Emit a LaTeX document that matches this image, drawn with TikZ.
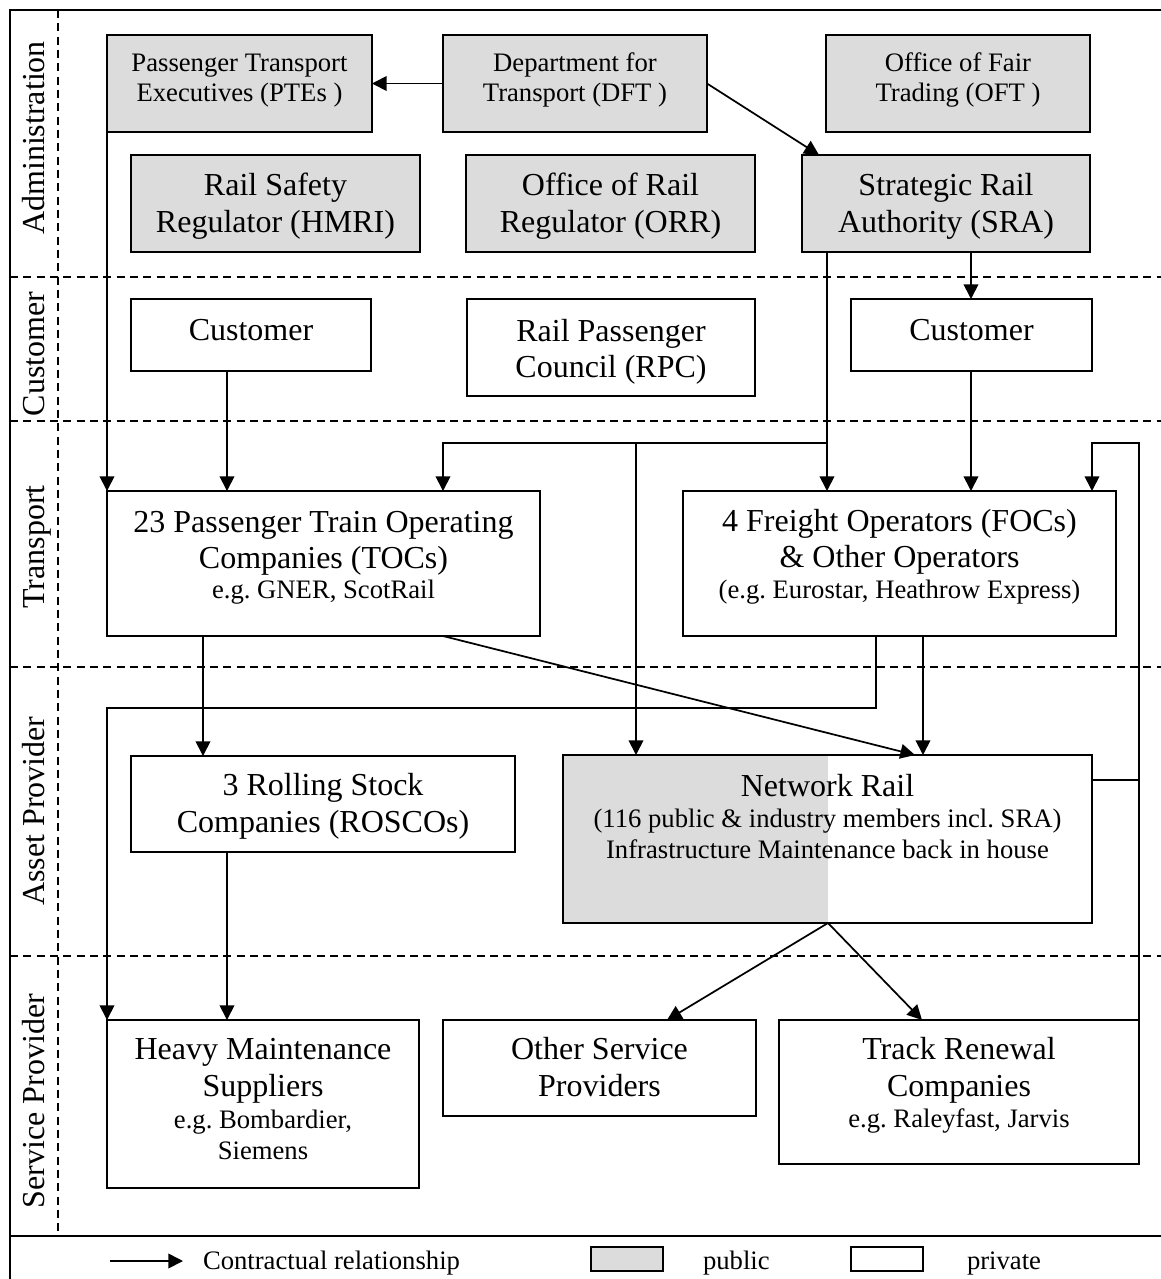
\documentclass[tikz,border=0pt]{standalone}
\usepackage{fontspec}
\setmainfont{Liberation Serif}
\usetikzlibrary{arrows.meta,calc}
\definecolor{pubgray}{RGB}{220,220,220}
\frenchspacing
\newcommand\fntA{\fontsize{24}{28}\selectfont}
\newcommand\fntB{\fontsize{20}{24}\selectfont}
\newcommand\bx[6]{\node[#1, minimum width={(#5-#3)*0.75pt}, minimum height={(#6-#4)*0.75pt}] (#2) at ({(#3+#5)/2},{(#4+#6)/2}) {};}
\newcommand\tl[5]{\node[txt, font=#4] (#1) at (#2,#3) {#5};}
\newcommand\tw[4]{\node[txtw, font=\fntB] (#1) at (#2,#3) {#4};}
\begin{document}
\begin{tikzpicture}[x=0.75pt,y=-0.75pt,
  box/.style={draw, line width=1.3pt, inner sep=0pt, outer sep=0pt, rectangle},
  pub/.style={box, fill=pubgray},
  priv/.style={box, fill=white},
  nrbox/.style={box},
  txt/.style={anchor=base, inner sep=0pt, outer sep=0pt},
  txtw/.style={anchor=base west, inner sep=0pt, outer sep=0pt},
  lane/.style={rotate=90, anchor=base, inner sep=0pt, font=\fntA},
  arr/.style={line width=1.3pt, -{Triangle[length=11pt,width=11pt]}},
  conn/.style={line width=1.3pt},
  lanedash/.style={line width=1pt, dash pattern=on 6pt off 4pt},
  frame/.style={line width=1.5pt}]
\useasboundingbox (0,0) rectangle (1161,1279);

% frame and lanes
\draw[frame] (10,1279) -- (10,10) -- (1161,10);
\draw[frame] (10,1236) -- (1161,1236);
\draw[lanedash] (58,10) -- (58,1236);
\draw[lanedash] (10,277) -- (1161,277);
\draw[lanedash] (10,421) -- (1161,421);
\draw[lanedash] (10,667) -- (1161,667);
\draw[lanedash] (10,956) -- (1161,956);

\node[lane] (lA) at (44,138) {Administration};
\node[lane] (lC) at (44,354) {Customer};
\node[lane] (lT) at (44,547) {Transport};
\node[lane] (lP) at (44,811) {Asset Provider};
\node[lane] (lS) at (44,1101) {Service Provider};

% boxes
\bx{pub}{PTE}{107}{35}{372}{132}
\bx{pub}{DFT}{443}{35}{707}{132}
\bx{pub}{OFT}{826}{35}{1090}{132}
\bx{pub}{HMRI}{131}{155}{420}{252}
\bx{pub}{ORR}{466}{155}{755}{252}
\bx{pub}{SRA}{802}{155}{1090}{252}
\bx{priv}{CustL}{131}{299}{371}{371}
\bx{priv}{RPC}{467}{299}{755}{396}
\bx{priv}{CustR}{851}{299}{1092}{371}
\bx{priv}{TOC}{107}{491}{540}{636}
\bx{priv}{FOC}{683}{491}{1116}{636}
\bx{priv}{ROSCO}{131}{756}{515}{852}
\fill[pubgray] (563,755) rectangle (828,923);
\bx{nrbox}{NR}{563}{755}{1092}{923}
\bx{priv}{HMS}{107}{1020}{419}{1188}
\bx{priv}{OSP}{443}{1020}{756}{1116}
\bx{priv}{TRC}{779}{1020}{1139}{1164}

% texts
\tl{t1}{239.5}{71}{\fntB}{Passenger Transport}
\tl{t2}{239.5}{101}{\fntB}{Executives (PTEs )}
\tl{t3}{575}{71}{\fntB}{Department for}
\tl{t4}{575}{101}{\fntB}{Transport (DFT )}
\tl{t5}{958}{71}{\fntB}{Office of Fair}
\tl{t6}{958}{101}{\fntB}{Trading (OFT )}
\tl{t7}{275.5}{195}{\fntA}{Rail Safety}
\tl{t8}{275.5}{232}{\fntA}{Regulator (HMRI)}
\tl{t9}{610.5}{195}{\fntA}{Office of Rail}
\tl{t10}{610.5}{232}{\fntA}{Regulator (ORR)}
\tl{t11}{946}{195}{\fntA}{Strategic Rail}
\tl{t12}{946}{232}{\fntA}{Authority (SRA)}
\tl{t13}{251}{340}{\fntA}{Customer}
\tl{t14}{611}{341}{\fntA}{Rail Passenger}
\tl{t15}{611}{377}{\fntA}{Council (RPC)}
\tl{t16}{971.5}{340}{\fntA}{Customer}
\tl{t17}{323.5}{532}{\fntA}{23 Passenger Train Operating}
\tl{t18}{323.5}{568}{\fntA}{Companies (TOCs)}
\tl{t19}{323.5}{598}{\fntB}{e.g. GNER, ScotRail}
\tl{t20}{899.5}{531}{\fntA}{4 Freight Operators (FOCs)}
\tl{t21}{899.5}{567}{\fntA}{\& Other Operators}
\tl{t22}{899.5}{598}{\fntB}{(e.g. Eurostar, Heathrow Express)}
\tl{t23}{323}{795}{\fntA}{3 Rolling Stock}
\tl{t24}{323}{832}{\fntA}{Companies (ROSCOs)}
\tl{t25}{827.5}{796}{\fntA}{Network Rail}
\tl{t26}{827.5}{827}{\fntB}{(116 public \& industry members incl. SRA)}
\tl{t27}{827.5}{858}{\fntB}{Infrastructure Maintenance back in house}
\tl{t28}{263}{1059}{\fntA}{Heavy Maintenance}
\tl{t29}{263}{1096}{\fntA}{Suppliers}
\tl{t30}{263}{1128}{\fntB}{e.g. Bombardier,}
\tl{t31}{263}{1159}{\fntB}{Siemens}
\tl{t32}{599.5}{1059}{\fntA}{Other Service}
\tl{t33}{599.5}{1096}{\fntA}{Providers}
\tl{t34}{959}{1059}{\fntA}{Track Renewal}
\tl{t35}{959}{1096}{\fntA}{Companies}
\tl{t36}{959}{1127}{\fntB}{e.g. Raleyfast, Jarvis}

% helper coordinates
\coordinate (xA) at (227,0);
\coordinate (xB) at (443,0);
\coordinate (xC) at (636,0);
\coordinate (xD) at (827,0);
\coordinate (xE) at (971,0);
\coordinate (xF) at (1092,0);
\coordinate (xG) at (1139,0);
\coordinate (xH) at (203,0);
\coordinate (xI) at (876,0);
\coordinate (xJ) at (923,0);
\coordinate (xK) at (107,0);
\coordinate (yA) at (0,443);
\coordinate (yB) at (0,708);
\coordinate (yC) at (0,780);
\coordinate (nrb) at ($(NR.south west)+(265,0)$);

% connectors
\draw[arr] (DFT.west) -- (PTE.east);
\draw[arr] (DFT.east) -- ($(SRA.north west)+(17,0)$);
\draw[arr] (PTE.south west) -- (TOC.north west);
\draw[arr] (CustL.south -| xA) -- (TOC.north -| xA);
\draw[arr] (SRA.south -| xD) -- (FOC.north -| xD);
\draw[arr] (xD |- yA) -- (xB |- yA) -- (TOC.north -| xB);
\draw[arr] (xC |- yA) -- (NR.north -| xC);
\draw[arr] (SRA.south -| xE) -- (CustR.north -| xE);
\draw[arr] (CustR.south -| xE) -- (FOC.north -| xE);
\draw[arr] (TOC.south -| xH) -- (ROSCO.north -| xH);
\draw[arr] (TOC.south -| xB) -- ($(NR.north west)+(352,0)$);
\draw[arr] (FOC.south -| xJ) -- (NR.north -| xJ);
\draw[arr] (FOC.south -| xI) -- (xI |- yB) -- (xK |- yB) -- (HMS.north west);
\draw[arr] (ROSCO.south -| xA) -- (HMS.north -| xA);
\draw[arr] (nrb) -- ($(OSP.north west)+(224,0)$);
\draw[arr] (nrb) -- ($(TRC.north west)+(143,0)$);
\draw[arr] (TRC.north east) -- (xG |- yA) -- (xF |- yA) -- (FOC.north -| xF);
\draw[conn] (NR.east |- yC) -- (xG |- yC);

% legend
\coordinate (la1) at (110,1261);
\coordinate (la2) at (183,1261);
\draw[arr] (la1) -- (la2);
\tw{lg1}{203}{1269}{Contractual relationship}
\node[pub, minimum width={72*0.75pt}, minimum height={24*0.75pt}] (legPub) at (627,1259) {};
\tw{lg2}{703}{1269}{public}
\node[priv, minimum width={72*0.75pt}, minimum height={24*0.75pt}] (legPriv) at (887,1259) {};
\tw{lg3}{967}{1269}{private}
\end{tikzpicture}
\end{document}
